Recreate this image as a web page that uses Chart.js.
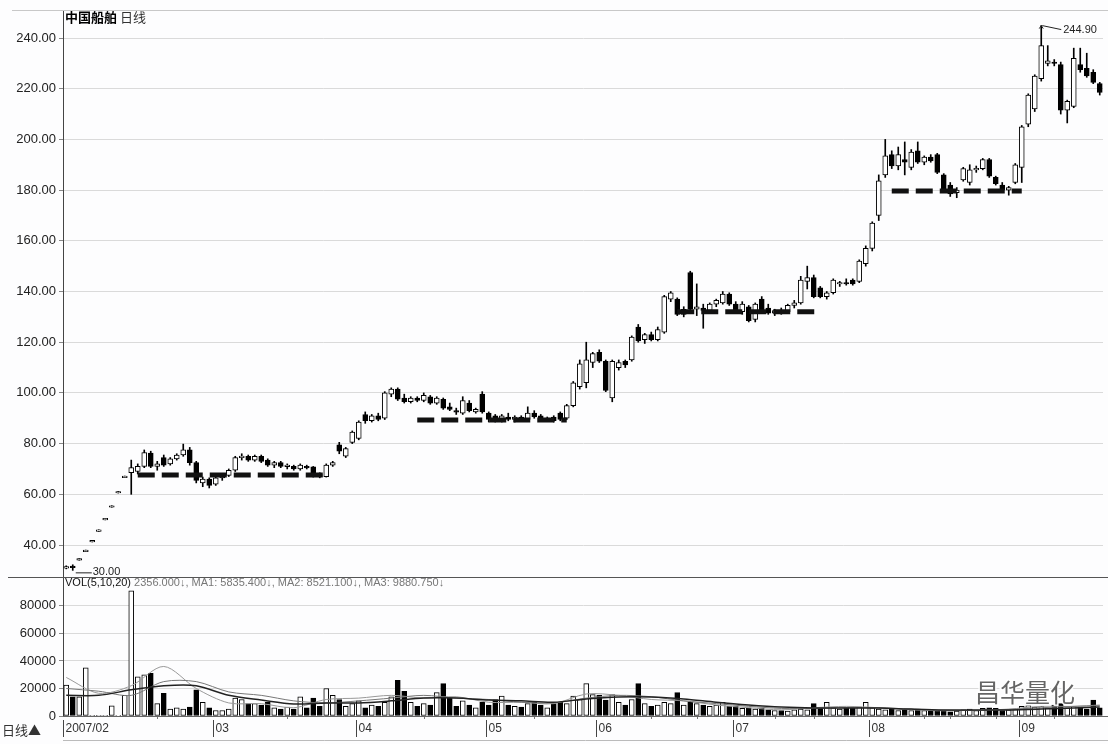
<!DOCTYPE html>
<html>
<head>
<meta charset="utf-8">
<script src="https://cdn.jsdelivr.net/npm/chart.js@4.4.1/dist/chart.umd.min.js"></script>
<style>
body { margin: 0; background: #fdfdfe; width: 1108px; height: 744px; overflow: hidden; position: relative; }
#priceChart { position: absolute; left: 0; top: 0; }
#volChart { position: absolute; left: 0; top: 577px; }
</style>
</head>
<body>
<canvas id="priceChart" width="1108" height="577"></canvas>
<canvas id="volChart" width="1108" height="167"></canvas>
<script>
// daily candles
var opens = [
  31.0, 31.6, 34.0, 37.4, 41.2, 45.4, 49.9, 54.9, 60.5, 66.6,
  68.5, 69.0, 71.0, 76.3, 71.0, 74.5, 72.0, 74.0, 75.5, 77.5,
  72.5, 64.5, 66.0, 64.0, 66.5, 67.5, 69.5, 74.5, 75.0, 73.5,
  75.0, 73.5, 71.5, 72.5, 71.0, 71.0, 70.0, 71.0, 70.8, 68.0,
  67.0, 71.5, 79.5, 75.0, 80.5, 82.0, 91.5, 89.0, 91.0, 90.0,
  99.5, 101.5, 98.0, 96.5, 98.0, 97.0, 98.5, 96.0, 97.5, 94.5,
  93.0, 92.0, 96.0, 92.5, 99.5, 92.0, 91.0, 89.0, 90.5, 89.5,
  90.5, 89.5, 92.0, 91.0, 89.5, 90.5, 92.0, 90.0, 95.0, 102.5,
  104.0, 112.0, 116.0, 112.5, 98.0, 110.0, 112.5, 113.0, 126.0, 121.0,
  123.0, 121.0, 124.0, 137.0, 137.0, 131.0, 147.5, 133.0, 133.5, 132.5,
  135.0, 135.5, 139.0, 135.0, 132.0, 134.0, 129.0, 137.0, 133.5, 131.5,
  132.5, 132.0, 134.5, 135.5, 144.0, 145.5, 141.5, 138.0, 139.5, 143.0,
  143.5, 144.5, 144.0, 151.0, 157.0, 170.0, 186.0, 194.0, 189.5, 192.0,
  189.0, 195.5, 191.0, 193.0, 194.0, 186.0, 182.0, 179.0, 184.0, 183.0,
  188.0, 188.5, 192.0, 185.0, 182.0, 180.0, 183.0, 189.0, 206.0, 212.0,
  224.0, 230.0, 230.5, 229.5, 211.5, 213.0, 229.5, 228.0, 226.5, 222.0
];
var highs = [
  31.8, 32.2, 34.6, 38.0, 41.8, 46.0, 50.5, 55.5, 61.1, 67.2,
  73.5, 72.0, 77.5, 77.0, 73.0, 75.5, 74.5, 76.0, 79.8, 78.5,
  73.0, 66.8, 66.5, 67.0, 68.0, 70.0, 75.0, 76.0, 75.5, 75.5,
  75.5, 74.0, 73.0, 73.0, 72.0, 71.5, 72.0, 71.5, 71.0, 68.5,
  72.0, 73.0, 80.5, 78.5, 85.0, 89.0, 92.5, 91.5, 92.0, 100.5,
  102.0, 102.0, 99.5, 98.5, 98.5, 100.0, 99.0, 98.5, 98.0, 96.0,
  94.0, 98.5, 97.0, 94.0, 100.5, 92.5, 91.5, 91.5, 92.0, 91.0,
  91.0, 94.5, 93.0, 91.5, 90.5, 91.0, 92.5, 95.5, 104.5, 113.0,
  120.0, 116.0, 117.0, 113.0, 113.0, 113.0, 113.0, 122.5, 127.0, 123.5,
  124.0, 126.0, 138.5, 140.0, 137.5, 134.0, 148.0, 143.0, 135.0, 135.5,
  137.0, 140.0, 139.5, 136.0, 136.0, 134.5, 135.5, 138.0, 135.0, 133.0,
  133.5, 135.0, 136.5, 146.0, 150.0, 146.5, 142.0, 140.0, 145.0, 144.0,
  145.0, 145.0, 152.5, 158.0, 167.5, 186.0, 200.0, 195.5, 197.0, 199.0,
  196.0, 199.0, 193.5, 194.0, 194.5, 186.5, 183.0, 181.0, 189.0, 190.0,
  189.5, 192.5, 192.5, 185.5, 183.0, 181.5, 190.5, 205.5, 218.0, 225.5,
  244.9, 237.0, 231.5, 230.5, 215.5, 236.0, 236.0, 234.0, 227.5, 222.5
];
var lows = [
  30.6, 30.0, 34.0, 37.4, 41.2, 45.4, 49.9, 54.9, 60.5, 66.6,
  60.0, 68.0, 70.5, 70.5, 69.5, 71.0, 71.5, 73.5, 75.0, 71.5,
  64.5, 63.0, 62.5, 63.5, 65.5, 67.0, 69.0, 73.5, 73.0, 73.0,
  72.5, 71.0, 70.5, 70.5, 70.0, 69.5, 69.5, 70.0, 66.8, 66.5,
  66.8, 71.0, 76.0, 74.5, 80.0, 81.5, 88.0, 88.5, 89.0, 89.5,
  98.5, 97.0, 96.0, 96.0, 96.5, 96.5, 95.5, 95.5, 93.5, 93.0,
  91.5, 91.5, 92.5, 92.0, 92.0, 88.5, 88.5, 88.5, 89.0, 88.5,
  89.0, 89.0, 90.0, 89.0, 89.0, 88.5, 89.0, 89.5, 94.5, 101.5,
  102.0, 110.0, 112.0, 100.5, 96.5, 109.0, 110.0, 112.5, 120.0, 119.5,
  120.5, 120.5, 123.5, 136.0, 130.5, 130.0, 132.5, 130.5, 125.5, 131.5,
  134.0, 135.0, 134.5, 131.5, 131.0, 128.0, 128.0, 131.5, 131.0, 130.5,
  131.0, 131.5, 133.5, 135.0, 141.0, 137.5, 137.5, 137.0, 139.0, 142.0,
  142.5, 142.5, 143.5, 150.0, 156.0, 168.0, 185.0, 188.5, 188.0, 186.0,
  188.0, 190.5, 190.0, 191.0, 186.5, 179.5, 177.5, 177.0, 183.5, 182.0,
  187.0, 188.0, 185.0, 182.0, 179.0, 178.0, 182.5, 183.0, 205.0, 211.0,
  223.0, 229.0, 229.0, 210.0, 206.5, 212.5, 226.5, 224.5, 222.0, 217.5
];
var closes = [
  31.4, 31.2, 34.6, 38.0, 41.8, 46.0, 50.5, 55.5, 61.1, 67.2,
  70.5, 71.0, 76.5, 71.0, 72.0, 71.5, 74.0, 75.5, 77.5, 72.5,
  65.5, 66.0, 63.5, 66.5, 67.5, 69.5, 74.5, 75.0, 73.5, 75.0,
  73.0, 71.5, 72.5, 71.0, 71.5, 70.0, 71.5, 70.5, 67.5, 67.0,
  71.5, 72.5, 77.0, 78.0, 84.5, 88.5, 89.0, 91.0, 89.5, 100.0,
  101.5, 97.5, 96.5, 98.0, 97.0, 99.0, 96.0, 98.0, 94.0, 93.5,
  92.5, 97.0, 93.0, 93.5, 92.5, 89.5, 89.0, 91.0, 89.5, 90.5,
  89.5, 92.0, 90.5, 89.5, 90.0, 89.0, 89.5, 95.0, 104.0, 111.5,
  113.0, 115.5, 112.5, 101.0, 112.5, 112.0, 111.0, 122.0, 120.5, 123.0,
  121.0, 125.0, 138.0, 139.5, 131.0, 133.0, 133.0, 134.0, 132.5, 135.0,
  136.5, 139.0, 135.0, 132.0, 135.0, 128.5, 135.0, 132.0, 131.5, 132.5,
  132.0, 134.5, 135.5, 144.5, 145.5, 138.0, 138.0, 139.5, 144.5, 143.5,
  143.0, 143.0, 152.0, 157.0, 167.0, 183.7, 193.5, 189.5, 194.0, 191.0,
  195.0, 191.0, 193.0, 191.5, 187.0, 180.5, 178.5, 180.0, 188.5, 188.0,
  188.5, 192.0, 185.5, 182.5, 180.0, 181.0, 190.0, 205.0, 217.5, 225.0,
  237.0, 231.0, 230.0, 211.5, 215.0, 232.0, 227.5, 225.0, 222.5, 218.5
];
var volumes = [
  22500, 14000, 14000, 35000, 400, 300, 300, 7300, 500, 15000,
  91000, 28500, 30000, 31000, 9000, 16500, 5000, 6000, 5000, 6500,
  19000, 10000, 6000, 4000, 4000, 5000, 13000, 12000, 9000, 9000,
  8000, 10000, 6000, 5000, 6500, 5000, 14000, 6000, 13000, 7000,
  20000, 15000, 12000, 7000, 9000, 11000, 6000, 8000, 7000, 10000,
  14000, 26000, 18000, 10000, 7000, 9000, 8000, 17000, 23500, 13000,
  7000, 11000, 8000, 6000, 10000, 8000, 12000, 14500, 8000, 7000,
  6500, 9000, 10000, 8000, 6000, 9000, 10000, 9000, 14500, 12000,
  23500, 15500, 15000, 11500, 15500, 10000, 8000, 12000, 23500, 9000,
  7000, 8000, 10000, 9000, 17000, 8000, 10000, 9000, 8000, 7000,
  8000, 10000, 7000, 7000, 5500, 6000, 5000, 5500, 4500, 4000,
  4000, 3500, 4500, 5000, 4500, 9000, 6000, 10000, 6000, 5000,
  6000, 5500, 6500, 10000, 6000, 5000, 4500, 5000, 4000, 4500,
  4000, 5000, 4000, 3500, 4000, 3500, 3000, 3500, 4500, 5000,
  4000, 5500, 6000, 5500, 4000, 4500, 5000, 7000, 7500, 6500,
  7000, 6000, 8000, 9000, 6000, 7000, 6500, 5000, 11500, 6000
];

// volume moving averages, read at every fifth day
var maIdx = [0, 5, 10, 15, 20, 25, 30, 35, 40, 45, 50, 55, 60, 65, 70, 75, 80,
  85, 90, 95, 100, 105, 110, 115, 120, 125, 130, 135, 140, 145, 150, 155, 159];
var ma5 = [28000, 16500, 22000, 36000, 20000, 9500, 9000, 6000, 12000, 13000, 15000,
  13000, 14000, 10000, 10000, 9000, 16000, 15000, 12000, 11000, 8000, 6000, 4500,
  6000, 7000, 6000, 4500, 3800, 4200, 5000, 7000, 7000, 8000];
var ma10 = [20000, 18000, 15000, 25000, 25000, 17500, 15000, 11000, 9500, 11000, 13000,
  15000, 13000, 12000, 10000, 9500, 13000, 15000, 14000, 11000, 9000, 7000, 5500,
  5500, 6000, 6000, 5000, 4200, 4000, 4800, 6000, 7000, 7500];
var ma20 = [15000, 15000, 19000, 22000, 22000, 15000, 11600, 8700, 9500, 9500, 11000,
  13000, 13000, 11600, 11000, 10000, 12400, 13800, 13800, 12400, 10000, 8000, 6500,
  5800, 5800, 5800, 5000, 4400, 4400, 4400, 5000, 5800, 6500];

// hand drawn support lines
var supportLevels = [67.6, 89.3, 132.0, 179.6];
var supportFrom = [11, 54, 94, 127];
var supportTo = [40, 77, 116, 147];

var monthLabels = ["2007/02", "03", "04", "05", "06", "07", "08", "09"];
var monthStartIdx = [0, 23, 45, 65, 82, 103, 124, 147];
var minorTickIdx = [14, 34, 55, 72, 90, 97, 109, 115, 132, 136, 143, 152];

var priceTicks = [40, 60, 80, 100, 120, 140, 160, 180, 200, 220, 240];
var volTicks = [0, 20000, 40000, 60000, 80000];

var N = opens.length;
var dayLabels = opens.map(function(_, i) { return String(i); });

var bodies = opens.map(function(o, i) {
    var a = Math.min(o, closes[i]), b = Math.max(o, closes[i]);
    if (b - a < 0.6) { var m = (a + b) / 2; a = m - 0.3; b = m + 0.3; }
    return [a, b];
});
var wicks = lows.map(function(l, i) { return [l, highs[i]]; });
var fillColors = opens.map(function(o, i) { return closes[i] >= o ? "#ffffff" : "#000000"; });

var supportSets = supportLevels.map(function(lv, k) {
    return {
        type: "line",
        data: dayLabels.map(function(_, i) { return i >= supportFrom[k] && i <= supportTo[k] ? lv : null; }),
        borderColor: "#111",
        borderWidth: 5,
        borderDash: [17, 7],
        borderCapStyle: "butt",
        pointRadius: 0,
        spanGaps: false,
        order: 0
    };
});

function sparse(values) {
    var arr = dayLabels.map(function() { return null; });
    maIdx.forEach(function(idx, k) { arr[idx] = values[k]; });
    return arr;
}

var font = "'Liberation Sans', Arial, sans-serif";
var cjk = "'Noto Sans CJK SC', 'Noto Sans', sans-serif";

var priceDecor = {
    id: "priceDecor",
    afterDraw: function(chart) {
        var ctx = chart.ctx, area = chart.chartArea;
        var xs = chart.scales.x, ys = chart.scales.y;
        ctx.save();
        ctx.strokeStyle = "#c8c8c8";
        ctx.lineWidth = 1;
        ctx.beginPath();
        ctx.moveTo(12, area.top + 0.5);
        ctx.lineTo(chart.width, area.top + 0.5);
        ctx.stroke();

        // title
        ctx.textBaseline = "middle";
        ctx.fillStyle = "#000";
        ctx.font = "bold 13px " + cjk;
        ctx.fillText("中国船舶", 65, 17);
        var w = ctx.measureText("中国船舶").width;
        ctx.font = "13px " + cjk;
        ctx.fillStyle = "#333";
        ctx.fillText("日线", 65 + w + 3, 17);

        // lowest price
        var lx = xs.getPixelForValue(1), ly = ys.getPixelForValue(30.0);
        ctx.strokeStyle = "#222";
        ctx.beginPath();
        ctx.moveTo(lx + 3, ly + 2.5);
        ctx.lineTo(lx + 19, ly + 2.5);
        ctx.stroke();
        ctx.font = "11px " + font;
        ctx.fillStyle = "#222";
        ctx.fillText("30.00", lx + 20, ly + 2);

        // highest price
        var hx = xs.getPixelForValue(150), hy = ys.getPixelForValue(244.9);
        ctx.beginPath();
        ctx.moveTo(hx + 1, hy);
        ctx.lineTo(hx + 20, hy + 4);
        ctx.moveTo(hx - 2, hy + 3);
        ctx.lineTo(hx, hy);
        ctx.lineTo(hx + 2, hy + 3);
        ctx.stroke();
        ctx.fillText("244.90", hx + 22, hy + 4);
        ctx.restore();
    }
};

var volDecor = {
    id: "volDecor",
    afterDraw: function(chart) {
        var ctx = chart.ctx, area = chart.chartArea;
        var xs = chart.scales.x;
        var slot = xs.getPixelForValue(1) - xs.getPixelForValue(0);
        ctx.save();
        ctx.lineWidth = 1;
        ctx.strokeStyle = "#555";
        ctx.beginPath();
        ctx.moveTo(8, area.top + 0.5);
        ctx.lineTo(chart.width, area.top + 0.5);
        ctx.stroke();

        ctx.strokeStyle = "#666";
        ctx.beginPath();
        ctx.moveTo(area.left, Math.round(area.bottom) + 0.5);
        ctx.lineTo(chart.width, Math.round(area.bottom) + 0.5);
        ctx.stroke();
        ctx.strokeStyle = "#bbb";
        ctx.beginPath();
        ctx.moveTo(area.left, chart.height - 3.5);
        ctx.lineTo(chart.width, chart.height - 3.5);
        ctx.stroke();

        // month labels
        ctx.strokeStyle = "#444";
        ctx.fillStyle = "#333";
        ctx.font = "12px " + font;
        ctx.textBaseline = "middle";
        monthStartIdx.forEach(function(idx, k) {
            var x = Math.round(xs.getPixelForValue(idx) - slot / 2) + 0.5;
            ctx.beginPath();
            ctx.moveTo(x, area.bottom + 4);
            ctx.lineTo(x, area.bottom + 21);
            ctx.stroke();
            ctx.fillText(monthLabels[k], x + 2, area.bottom + 13);
        });
        ctx.strokeStyle = "#777";
        minorTickIdx.forEach(function(idx) {
            var x = Math.round(xs.getPixelForValue(idx)) + 0.5;
            ctx.beginPath();
            ctx.moveTo(x, area.bottom + 1);
            ctx.lineTo(x, area.bottom + 3);
            ctx.stroke();
        });

        ctx.font = "13px " + cjk;
        ctx.fillStyle = "#333";
        ctx.fillText("日线▲", 2, area.bottom + 14);

        // indicator header
        ctx.font = "11px " + font;
        ctx.fillStyle = "#111";
        var head = "VOL(5,10,20)";
        ctx.fillText(head, 65, area.top + 6);
        ctx.fillStyle = "#777";
        ctx.fillText(" 2356.000↓, MA1: 5835.400↓, MA2: 8521.100↓, MA3: 9880.750↓",
            65 + ctx.measureText(head).width, area.top + 6);

        // watermark
        ctx.font = "25px " + cjk;
        ctx.lineWidth = 3;
        ctx.strokeStyle = "rgba(255,255,255,0.9)";
        ctx.strokeText("昌华量化", 975, area.bottom - 24);
        ctx.fillStyle = "rgba(50,50,50,0.75)";
        ctx.fillText("昌华量化", 975, area.bottom - 24);
        ctx.restore();
    }
};

var xConfig = {
    type: "category",
    display: false,
    offset: true,
    grid: { display: false }
};

function fitAxis(s) {
    s.width = 63;
    s.paddingTop = 0;
    s.paddingBottom = 0;
}

new Chart(document.getElementById("priceChart"), {
    type: "bar",
    data: {
        labels: dayLabels,
        datasets: supportSets.concat([
            {
                data: bodies,
                backgroundColor: fillColors,
                borderColor: "#000",
                borderWidth: 1,
                borderSkipped: false,
                barThickness: 5,
                grouped: false,
                order: 1
            },
            {
                data: wicks,
                backgroundColor: "#000",
                borderWidth: 0,
                barThickness: 1,
                grouped: false,
                order: 2
            }
        ])
    },
    options: {
        responsive: false,
        animation: false,
        events: [],
        layout: { padding: { top: 10, right: 5, left: 0, bottom: 0 } },
        plugins: { legend: { display: false }, tooltip: { enabled: false } },
        scales: {
            x: xConfig,
            y: {
                min: 27.38,
                max: 251.05,
                afterFit: fitAxis,
                afterBuildTicks: function(s) { s.ticks = priceTicks.map(function(v) { return { value: v }; }); },
                ticks: {
                    color: "#222",
                    font: { family: font, size: 13 },
                    padding: 3,
                    callback: function(v) { return Number(v).toFixed(2); }
                },
                grid: { color: "#dadada", tickColor: "#888", tickLength: 4 },
                border: { color: "#444" }
            }
        }
    },
    plugins: [priceDecor]
});

new Chart(document.getElementById("volChart"), {
    type: "bar",
    data: {
        labels: dayLabels,
        datasets: [
            { type: "line", data: sparse(ma20), borderColor: "#222", borderWidth: 1.5, pointRadius: 0, spanGaps: true, tension: 0.3, order: 0 },
            { type: "line", data: sparse(ma10), borderColor: "#777", borderWidth: 1, pointRadius: 0, spanGaps: true, tension: 0.3, order: 0 },
            { type: "line", data: sparse(ma5), borderColor: "#999", borderWidth: 1, pointRadius: 0, spanGaps: true, tension: 0.3, order: 0 },
            {
                data: volumes,
                backgroundColor: fillColors,
                borderColor: "#000",
                borderWidth: 1,
                borderSkipped: false,
                barThickness: 5,
                grouped: false,
                order: 1
            }
        ]
    },
    options: {
        responsive: false,
        animation: false,
        events: [],
        layout: { padding: { top: 0, right: 5, left: 0, bottom: 28 } },
        plugins: { legend: { display: false }, tooltip: { enabled: false } },
        scales: {
            x: xConfig,
            y: {
                min: 0,
                max: 101000,
                afterFit: fitAxis,
                afterBuildTicks: function(s) { s.ticks = volTicks.map(function(v) { return { value: v }; }); },
                ticks: {
                    color: "#222",
                    font: { family: font, size: 13 },
                    padding: 3,
                    callback: function(v) { return String(v); }
                },
                grid: { color: "#dadada", tickColor: "#888", tickLength: 4 },
                border: { color: "#444" }
            }
        }
    },
    plugins: [volDecor]
});
</script>
</body>
</html>
